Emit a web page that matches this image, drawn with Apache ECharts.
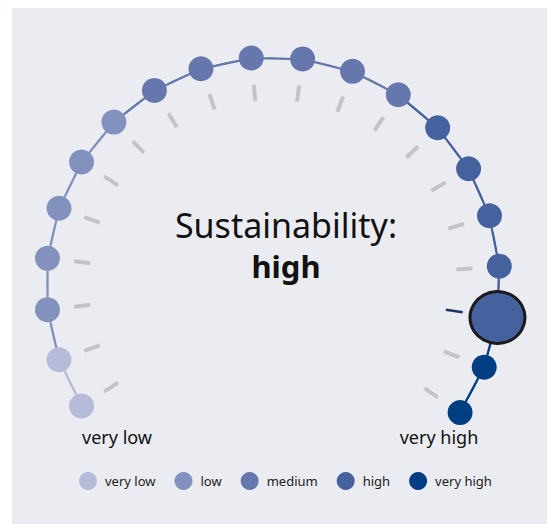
<!DOCTYPE html>
<html>
<head>
<meta charset="utf-8">
<script src="https://cdn.jsdelivr.net/npm/echarts@6/dist/echarts.min.js"></script>
<style>
  html, body { margin: 0; padding: 0; background: #fff; }
  #panel { position: absolute; left: 12px; top: 8px; width: 535px; height: 516px; background: #ebecf1; }
  #chart { position: absolute; left: 0; top: 0; width: 547px; height: 524px; }
</style>
</head>
<body>
<div id="panel"></div>
<div id="chart"></div>
<script>
// 20 steps on the scale, each one belongs to a class
const levels = [1, 2, 3, 4, 5, 6, 7, 8, 9, 10, 11, 12, 13, 14, 15, 16, 17, 18, 19, 20]
const levelClass = [
  'very low', 'very low',
  'low', 'low', 'low', 'low', 'low',
  'medium', 'medium', 'medium', 'medium', 'medium', 'medium',
  'high', 'high', 'high', 'high', 'high',
  'very high', 'very high'
]
const classNames = ['very low', 'low', 'medium', 'high', 'very high']
const classColors = ['#b7bbda', '#8391be', '#6577ad', '#45629e', '#003e84']
const currentLevel = 18
const endLabels = ['very low', 'very high']
const titleText = 'Sustainability:'

const ring = 1
const fontFamily = '"Noto Sans", "Open Sans", sans-serif'
const currentClass = levelClass[levels.indexOf(currentLevel)]

const chart = echarts.init(document.getElementById('chart'), null, { renderer: 'svg' })

const tickSeries = {
  type: 'custom',
  coordinateSystem: 'polar',
  silent: true,
  z: 1,
  data: levels.map(l => [ring, l]),
  renderItem: (params, api) => {
    const lvl = api.value(1)
    const sel = lvl === currentLevel
    const p0 = api.coord([sel ? 0.77 : 0.81, lvl])
    const p1 = api.coord([sel ? 0.845 : 0.882, lvl])
    return {
      type: 'line',
      shape: { x1: p0[0], y1: p0[1], x2: p1[0], y2: p1[1] },
      style: { stroke: sel ? '#1d3463' : '#c3c4c8', lineWidth: sel ? 2.5 : 4 }
    }
  }
}

const lineSeries = classNames.map((c, k) => {
  const own = levels.filter((l, i) => levelClass[i] === c)
  const from = k === 0 ? own[0] : own[0] - 1
  const last = own[own.length - 1]
  return {
    type: 'line',
    name: c + ' line',
    coordinateSystem: 'polar',
    data: levels.filter(l => l >= from && l <= last).map(l => [ring, l]),
    symbol: 'none',
    clip: false,
    silent: true,
    z: 2,
    lineStyle: { color: classColors[k], width: 2.5 }
  }
})

const dotSeries = classNames.map((c, k) => ({
  type: 'scatter',
  name: c,
  coordinateSystem: 'polar',
  symbolSize: 25,
  clip: false,
  z: 3,
  itemStyle: { color: classColors[k], opacity: 1 },
  data: levels
    .filter((l, i) => levelClass[i] === c)
    .map(l => l === currentLevel
      ? { value: [ring, l], symbolSize: [55, 52], itemStyle: { borderColor: '#1a1a1a', borderWidth: 3 } }
      : [ring, l])
}))

chart.setOption({
  animation: false,
  polar: { center: [273, 284], radius: 227 },
  angleAxis: {
    type: 'value',
    min: 0,
    max: 360 / 13,
    startAngle: 225.5,
    clockwise: true,
    axisLine: { show: false },
    axisTick: { show: false },
    axisLabel: { show: false },
    splitLine: { show: false }
  },
  radiusAxis: {
    type: 'value',
    min: 0,
    max: 1,
    axisLine: { show: false },
    axisTick: { show: false },
    axisLabel: { show: false },
    splitLine: { show: false }
  },
  legend: {
    data: classNames,
    icon: 'circle',
    left: 79,
    top: 472,
    padding: 0,
    itemWidth: 18,
    itemHeight: 18,
    itemGap: 19,
    selectedMode: false,
    textStyle: { fontFamily, fontSize: 13, color: '#222', padding: [0, 0, 0, 3] }
  },
  graphic: [
    { type: 'text', x: 286, y: 225, style: { text: titleText, fontFamily, fontSize: 34, fill: '#111', align: 'center', verticalAlign: 'middle' } },
    { type: 'text', x: 286, y: 266, style: { text: currentClass, fontFamily, fontSize: 31, fontWeight: 'bold', fill: '#111', align: 'center', verticalAlign: 'middle' } },
    { type: 'text', x: 117, y: 437, style: { text: endLabels[0], fontFamily, fontSize: 18, fill: '#111', align: 'center', verticalAlign: 'middle' } },
    { type: 'text', x: 439, y: 437, style: { text: endLabels[1], fontFamily, fontSize: 18, fill: '#111', align: 'center', verticalAlign: 'middle' } }
  ],
  series: [tickSeries, ...lineSeries, ...dotSeries]
})
</script>
</body>
</html>
